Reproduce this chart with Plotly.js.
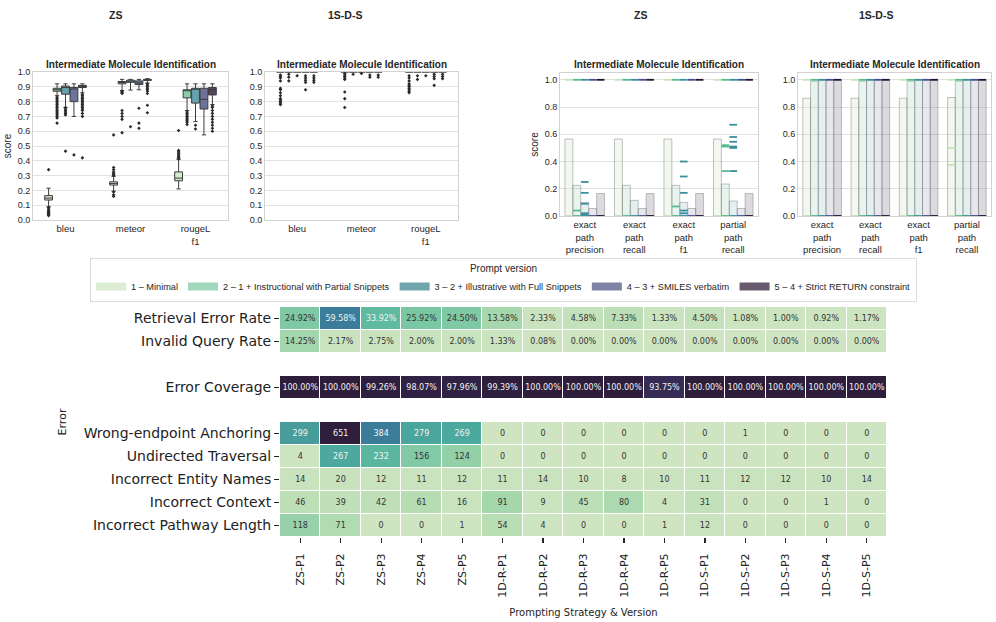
<!DOCTYPE html>
<html><head><meta charset="utf-8">
<script src="https://cdn.plot.ly/plotly-3.0.1.min.js"></script>
<style>html,body{margin:0;padding:0;background:#fff}#chart{width:996px;height:622px}</style>
</head><body><div id="chart"></div>
<script>
// ---------------- DATA ----------------
const versions = ['1 – Minimal', '2 – 1 + Instructional with Partial Snippets', '3 – 2 + Illustrative with Full Snippets', '4 – 3 + SMILES verbatim', '5 – 4 + Strict RETURN constraint'];
const boxMetrics = ['bleu', 'meteor', 'rougeL<br>f1'];
const barMetrics = ['exact<br>path<br>precision', 'exact<br>path<br>recall', 'exact<br>path<br>f1', 'partial<br>path<br>recall'];

// ZS box statistics: [version][metric: bleu, meteor, rougeL f1]
const zsQ1  = [[0.135, 0.236, 0.265], [0.870, 0.920, 0.825], [0.850, 0.930, 0.790], [0.800, 0.915, 0.750], [0.895, 0.943, 0.845]];
const zsMed = [[0.148, 0.246, 0.283], [0.880, 0.930, 0.875], [0.895, 0.940, 0.885], [0.885, 0.925, 0.815], [0.900, 0.946, 0.880]];
const zsQ3  = [[0.165, 0.258, 0.325], [0.890, 0.936, 0.880], [0.905, 0.945, 0.890], [0.895, 0.940, 0.890], [0.910, 0.950, 0.895]];
const zsLo  = [[0.090, 0.195, 0.210], [0.840, 0.875, 0.740], [0.760, 0.878, 0.665], [0.700, 0.880, 0.575], [0.860, 0.925, 0.780]];
const zsHi  = [[0.215, 0.295, 0.410], [0.920, 0.950, 0.920], [0.920, 0.950, 0.920], [0.920, 0.950, 0.920], [0.920, 0.955, 0.920]];
// ZS outliers: [version][metric] -> values
const zsOut = [
  [[0.34, 0.085, 0.075, 0.065, 0.058, 0.05, 0.045, 0.04, 0.035, 0.03], [0.575, 0.355, 0.34, 0.325, 0.315, 0.305, 0.30, 0.19, 0.17, 0.16], [0.605, 0.415, 0.42, 0.43, 0.44, 0.45, 0.46, 0.47]],
  [[0.655, 0.69, 0.70, 0.71, 0.72, 0.73, 0.74, 0.75, 0.76, 0.77, 0.78, 0.79, 0.80, 0.81, 0.82, 0.83], [0.59, 0.68, 0.70, 0.72, 0.74, 0.855, 0.86, 0.865, 0.87], [0.645, 0.66, 0.67, 0.68, 0.69, 0.70, 0.71, 0.72, 0.73]],
  [[0.465, 0.71, 0.72, 0.73, 0.74, 0.75, 0.76], [0.63], [0.615, 0.64]],
  [[0.44], [0.62, 0.655, 0.755], []],
  [[0.42, 0.70, 0.72, 0.74, 0.75, 0.76, 0.77, 0.78, 0.79, 0.80, 0.81, 0.82, 0.83, 0.84, 0.85], [0.725, 0.775, 0.855, 0.87, 0.88, 0.89, 0.90, 0.91, 0.92], [0.60, 0.62, 0.64, 0.66, 0.68, 0.70, 0.72, 0.74, 0.76, 0.77]]
];
// 1S-D-S box statistics (all collapsed at 1.0)
const sdsQ1  = [[1, 1, 1], [1, 1, 1], [1, 1, 1], [1, 1, 1], [1, 1, 1]];
const sdsMed = [[1, 1, 1], [1, 1, 1], [1, 1, 1], [1, 1, 1], [1, 1, 1]];
const sdsQ3  = [[1, 1, 1], [1, 1, 1], [1, 1, 1], [1, 1, 1], [1, 1, 1]];
const sdsLo  = [[1, 1, 1], [1, 1, 1], [1, 1, 1], [1, 1, 1], [1, 1, 1]];
const sdsHi  = [[1, 1, 1], [1, 1, 1], [1, 1, 1], [1, 1, 1], [1, 1, 1]];
const sdsOut = [
  [[0.78, 0.79, 0.80, 0.81, 0.82, 0.84, 0.86, 0.88, 0.89, 0.94, 0.96, 0.97, 0.98], [0.76, 0.82, 0.865, 0.95, 0.96, 0.97, 0.98, 0.99], [0.86, 0.87, 0.88, 0.89, 0.90, 0.91, 0.92, 0.94, 0.96, 0.975]],
  [[0.94, 0.965, 0.985], [0.985], [0.95, 0.975]],
  [[0.975], [0.99], [0.975]],
  [[0.88, 0.93, 0.945, 0.96, 0.975], [0.965, 0.98], [0.91, 0.955, 0.97, 0.985]],
  [[0.93, 0.945, 0.96, 0.975], [0.965, 0.98], [0.955, 0.97, 0.985]]
];

// Bar means: [version][metric]
const zsBar  = [[0.565, 0.565, 0.565, 0.565], [0.225, 0.225, 0.225, 0.235], [0.100, 0.115, 0.100, 0.110], [0.055, 0.055, 0.055, 0.055], [0.165, 0.165, 0.165, 0.165]];
const sdsBar = [[0.865, 0.865, 0.865, 0.870], [0.990, 0.990, 0.990, 0.990], [1.0, 1.0, 1.0, 1.0], [1.0, 1.0, 1.0, 1.0], [1.0, 1.0, 1.0, 1.0]];
// Strip values: [version][metric] -> values
const zsStrip = [
  [[1, 0], [1, 0], [1, 0], [1, 0]],
  [[1, 0.04, 0], [1, 0], [1, 0.07, 0], [1, 0.52, 0.51, 0.33, 0]],
  [[1, 0.25, 0.17, 0.09, 0.02, 0.01, 0], [1, 0], [1, 0.40, 0.29, 0.17, 0.04, 0.02, 0], [1, 0.67, 0.58, 0.545, 0.51, 0.50, 0.33, 0]],
  [[1, 0], [1, 0], [1, 0], [1, 0]],
  [[1, 0], [1, 0], [1, 0], [1, 0]]
];
const sdsStrip = [
  [[1, 0], [1, 0], [1, 0], [1, 0.50, 0.375, 0]],
  [[1, 0], [1, 0], [1, 0], [1, 0]],
  [[1, 0], [1, 0], [1, 0], [1, 0]],
  [[1, 0], [1, 0], [1, 0], [1, 0]],
  [[1, 0], [1, 0], [1, 0], [1, 0]]
];

// Heatmap data
const heatCols = ['ZS-P1', 'ZS-P2', 'ZS-P3', 'ZS-P4', 'ZS-P5', '1D-R-P1', '1D-R-P2', '1D-R-P3', '1D-R-P4', '1D-R-P5', '1D-S-P1', '1D-S-P2', '1D-S-P3', '1D-S-P4', '1D-S-P5'];
const retrievalErrorRate = [24.92, 59.58, 33.92, 25.92, 24.50, 13.58, 2.33, 4.58, 7.33, 1.33, 4.50, 1.08, 1.00, 0.92, 1.17];
const invalidQueryRate   = [14.25, 2.17, 2.75, 2.00, 2.00, 1.33, 0.08, 0.00, 0.00, 0.00, 0.00, 0.00, 0.00, 0.00, 0.00];
const errorCoverage      = [100.00, 100.00, 99.26, 98.07, 97.96, 99.39, 100.00, 100.00, 100.00, 93.75, 100.00, 100.00, 100.00, 100.00, 100.00];
const wrongEndpoint      = [299, 651, 384, 279, 269, 0, 0, 0, 0, 0, 0, 1, 0, 0, 0];
const undirectedTrav     = [4, 267, 232, 156, 124, 0, 0, 0, 0, 0, 0, 0, 0, 0, 0];
const entityNames        = [14, 20, 12, 11, 12, 11, 14, 10, 8, 10, 11, 12, 12, 10, 14];
const incorrectContext   = [46, 39, 42, 61, 16, 91, 9, 45, 80, 4, 31, 0, 0, 1, 0];
const pathwayLength      = [118, 71, 0, 0, 1, 54, 4, 0, 0, 1, 12, 0, 0, 0, 0];
const rateLabels  = ['Retrieval Error Rate', 'Invalid Query Rate'];
const coverLabel  = 'Error Coverage';
const countLabels = ['Wrong-endpoint Anchoring', 'Undirected Traversal', 'Incorrect Entity Names', 'Incorrect Context', 'Incorrect Pathway Length'];

// ---------------- STYLE ----------------
const pal = ['#d4e8ca', '#8acdab', '#66a4ad', '#6c7298', '#564560'];
const legendPal = ['#dbedd4', '#a1d7bd', '#72a6ae', '#7e85a6', '#6a5a70'];
const barFill = ['rgba(212,232,202,0.3)', 'rgba(138,205,171,0.2)', 'rgba(102,164,173,0.18)', 'rgba(108,114,152,0.16)', 'rgba(86,69,96,0.2)'];
const stripPal = ['#c6e3ba', '#56bb92', '#3a8e9e', '#46508c', '#22122c'];
const heatScale = [[0, '#cfe5c2'], [0.1, '#b4dcb1'], [0.2, '#8fcfa7'], [0.3, '#6cc3a1'], [0.4, '#4eac9d'], [0.5, '#41939b'], [0.6, '#3a7b99'], [0.7, '#3b6293'], [0.8, '#3f4a83'], [0.9, '#3a3263'], [1, '#2e1e3c']];
const boxStep = 0.13, boxW = 0.12, barStep = 0.16;
const FONT = "'Liberation Sans', Arial, sans-serif";
const DJ = "'DejaVu Sans', sans-serif";

const traces = [];

function addBoxes(q1, med, q3, lo, hi, outs, xa, ya, lw) {
  for (let v = 0; v < versions.length; v++) {
    const xs = boxMetrics.map((_, m) => m + (v - 2) * boxStep);
    traces.push({type: 'box', orientation: 'v', x: xs, q1: q1[v], median: med[v], q3: q3[v],
      lowerfence: lo[v], upperfence: hi[v], width: boxW, fillcolor: pal[v],
      line: {color: '#3d3d3d', width: lw}, whiskerwidth: 0.55, boxpoints: false,
      xaxis: xa, yaxis: ya, showlegend: false, hoverinfo: 'skip'});
    const ox = [], oy = [];
    outs[v].forEach((arr, m) => arr.forEach(val => { ox.push(m + (v - 2) * boxStep); oy.push(val); }));
    traces.push({type: 'scatter', mode: 'markers', x: ox, y: oy,
      marker: {symbol: 'diamond', size: 2.8, color: '#2a2a2a'},
      xaxis: xa, yaxis: ya, showlegend: false, hoverinfo: 'skip', cliponaxis: false});
  }
}
function addBars(vals, strips, xa, ya) {
  for (let v = 0; v < versions.length; v++) {
    const xs = barMetrics.map((_, m) => m + (v - 2) * barStep);
    traces.push({type: 'bar', x: xs, y: vals[v], width: barStep,
      marker: {color: barFill[v], line: {color: 'rgba(120,120,120,0.45)', width: 1}},
      xaxis: xa, yaxis: ya, showlegend: false, hoverinfo: 'skip'});
    const sx = [], sy = [];
    strips[v].forEach((arr, m) => arr.forEach(val => { sx.push(m + (v - 2) * barStep); sy.push(val); }));
    traces.push({type: 'scatter', mode: 'markers', x: sx, y: sy,
      marker: {symbol: 'line-ew-open', size: 5.5, color: stripPal[v], line: {color: stripPal[v], width: 1.8}},
      xaxis: xa, yaxis: ya, showlegend: false, hoverinfo: 'skip', cliponaxis: false});
  }
}
addBoxes(zsQ1, zsMed, zsQ3, zsLo, zsHi, zsOut, 'x', 'y', 1);
addBoxes(sdsQ1, sdsMed, sdsQ3, sdsLo, sdsHi, sdsOut, 'x2', 'y2', 1.3);
addBars(zsBar, zsStrip, 'x3', 'y3');
addBars(sdsBar, sdsStrip, 'x4', 'y4');

// legend entries
versions.forEach((name, v) => {
  traces.push({type: 'scatter', mode: 'lines', x: [null], y: [null], name: name,
    line: {color: legendPal[v], width: 8}, xaxis: 'x', yaxis: 'y', showlegend: true, hoverinfo: 'skip'});
});

// heatmap
const maxCount = Math.max(...wrongEndpoint, ...undirectedTrav, ...entityNames, ...incorrectContext, ...pathwayLength);
const pctRows = [retrievalErrorRate, invalidQueryRate, null, errorCoverage, null];
const cntRows = [wrongEndpoint, undirectedTrav, entityNames, incorrectContext, pathwayLength];
const z = [], tx = [], ty = [], tt = [], tc = [];
pctRows.forEach((row, r) => {
  if (!row) { z.push(heatCols.map(() => null)); return; }
  z.push(row.map(v => v / 100));
  row.forEach((v, c) => { tx.push(heatCols[c]); ty.push(r); tt.push(v.toFixed(2) + '%'); tc.push(v / 100 > 0.3 ? '#f2f2f2' : '#333333'); });
});
cntRows.forEach((row, i) => {
  const r = pctRows.length + i;
  z.push(row.map(v => v / maxCount));
  row.forEach((v, c) => { tx.push(heatCols[c]); ty.push(r); tt.push(String(v)); tc.push(v / maxCount > 0.3 ? '#f2f2f2' : '#333333'); });
});
const rowIdx = z.map((_, i) => i);
traces.push({type: 'heatmap', x: heatCols, y: rowIdx, z: z, zmin: 0, zmax: 1, colorscale: heatScale,
  showscale: false, xgap: 1, ygap: 1, xaxis: 'x5', yaxis: 'y5', hoverinfo: 'skip'});
traces.push({type: 'scatter', mode: 'text', x: tx, y: ty, text: tt, cliponaxis: false,
  textfont: {family: DJ, size: 8, color: tc}, xaxis: 'x5', yaxis: 'y5', showlegend: false, hoverinfo: 'skip'});

const tickvals5 = [0, 1, 3, 5, 6, 7, 8, 9];
const ticktext5 = [...rateLabels, coverLabel, ...countLabels];

// ---------------- LAYOUT ----------------
const px = v => v / 996, py = v => 1 - v / 622;
const frame = {showline: true, mirror: true, linecolor: '#d2d2d2', linewidth: 1, zeroline: false};
function boxX(d) { return Object.assign({domain: d, range: [-0.5, 2.5], tickvals: [0, 1, 2], ticktext: boxMetrics, showgrid: false, ticks: '', tickfont: {size: 9.5}}, frame); }
function barX(d) { return Object.assign({domain: d, range: [-0.5, 3.5], tickvals: [0, 1, 2, 3], ticktext: barMetrics, showgrid: false, ticks: '', tickfont: {size: 9.5}}, frame); }
const boxYd = [py(220), py(72)], barYd = [py(216), py(73)];

const annots = [];
[['ZS', 115], ['1S-D-S', 345], ['ZS', 640], ['1S-D-S', 876]].forEach(([t, x]) => annots.push({
  text: '<b>' + t + '</b>', x: px(x), y: py(15), xref: 'paper', yref: 'paper', xanchor: 'center', yanchor: 'middle',
  showarrow: false, font: {size: 10.5, color: '#262626'}}));
[130.5, 361.5, 659, 894.5].forEach(x => annots.push({
  text: '<b>Intermediate Molecule Identification</b>', x: px(x), y: py(65), xref: 'paper', yref: 'paper',
  xanchor: 'center', yanchor: 'middle', showarrow: false, font: {size: 10, color: '#262626'}}));

const layout = {
  width: 996, height: 622, margin: {l: 0, r: 0, t: 0, b: 0},
  paper_bgcolor: '#ffffff', plot_bgcolor: '#ffffff',
  font: {family: FONT, size: 9.5, color: '#262626'},
  barmode: 'overlay', showlegend: true,
  legend: {orientation: 'h', x: px(90), y: py(258), xanchor: 'left', yanchor: 'top',
    bordercolor: '#dcdcdc', borderwidth: 1, font: {family: FONT, size: 9.2, color: '#262626'},
    title: {text: 'Prompt version', side: 'top center', font: {family: FONT, size: 10}}, itemwidth: 30},
  xaxis: boxX([px(33), px(228)]),
  yaxis: Object.assign({domain: boxYd, range: [0, 1], dtick: 0.1, tickformat: '.1f', gridcolor: '#e2e2e2', ticks: '',
    tickfont: {size: 9}, title: {text: 'score', font: {size: 10}, standoff: 4}}, frame),
  xaxis2: Object.assign(boxX([px(265), px(458)]), {anchor: 'y2'}),
  yaxis2: Object.assign({domain: boxYd, range: [0, 1], dtick: 0.1, tickformat: '.1f', gridcolor: '#e2e2e2', ticks: '',
    tickfont: {size: 9}, anchor: 'x2'}, frame),
  xaxis3: Object.assign(barX([px(560), px(758)]), {anchor: 'y3'}),
  yaxis3: Object.assign({domain: barYd, range: [0, 1.05], dtick: 0.2, tickformat: '.1f', gridcolor: '#e2e2e2', ticks: '',
    tickfont: {size: 9}, anchor: 'x3', title: {text: 'score', font: {size: 10}, standoff: 4}}, frame),
  xaxis4: Object.assign(barX([px(798), px(991)]), {anchor: 'y4'}),
  yaxis4: Object.assign({domain: barYd, range: [0, 1.05], dtick: 0.2, tickformat: '.1f', gridcolor: '#e2e2e2', ticks: '',
    tickfont: {size: 9}, anchor: 'x4'}, frame),
  xaxis5: {domain: [px(280), px(887)], anchor: 'y5', type: 'category', range: [-0.5, 14.5], autorange: false,
    showgrid: false, zeroline: false, showline: false,
    ticks: 'outside', ticklen: 5, tickwidth: 1.2, tickcolor: '#222', tickangle: -90, ticklabelstandoff: 6,
    tickfont: {family: DJ, size: 11, color: '#222'},
    title: {text: 'Prompting Strategy & Version', font: {family: DJ, size: 10, color: '#222'}, standoff: 12}},
  yaxis5: {domain: [py(537), py(307)], anchor: 'x5', range: [9.5, -0.5], autorange: false, showgrid: false, zeroline: false, showline: false,
    tickvals: tickvals5, ticktext: ticktext5, ticks: 'outside', ticklen: 5, tickwidth: 1.2, tickcolor: '#222',
    tickfont: {family: DJ, size: 14, color: '#222'},
    title: {text: 'Error', font: {family: DJ, size: 11, color: '#222'}, standoff: 14}},
  annotations: annots
};

Plotly.newPlot('chart', traces, layout, {staticPlot: true, displayModeBar: false});
</script>
</body></html>
